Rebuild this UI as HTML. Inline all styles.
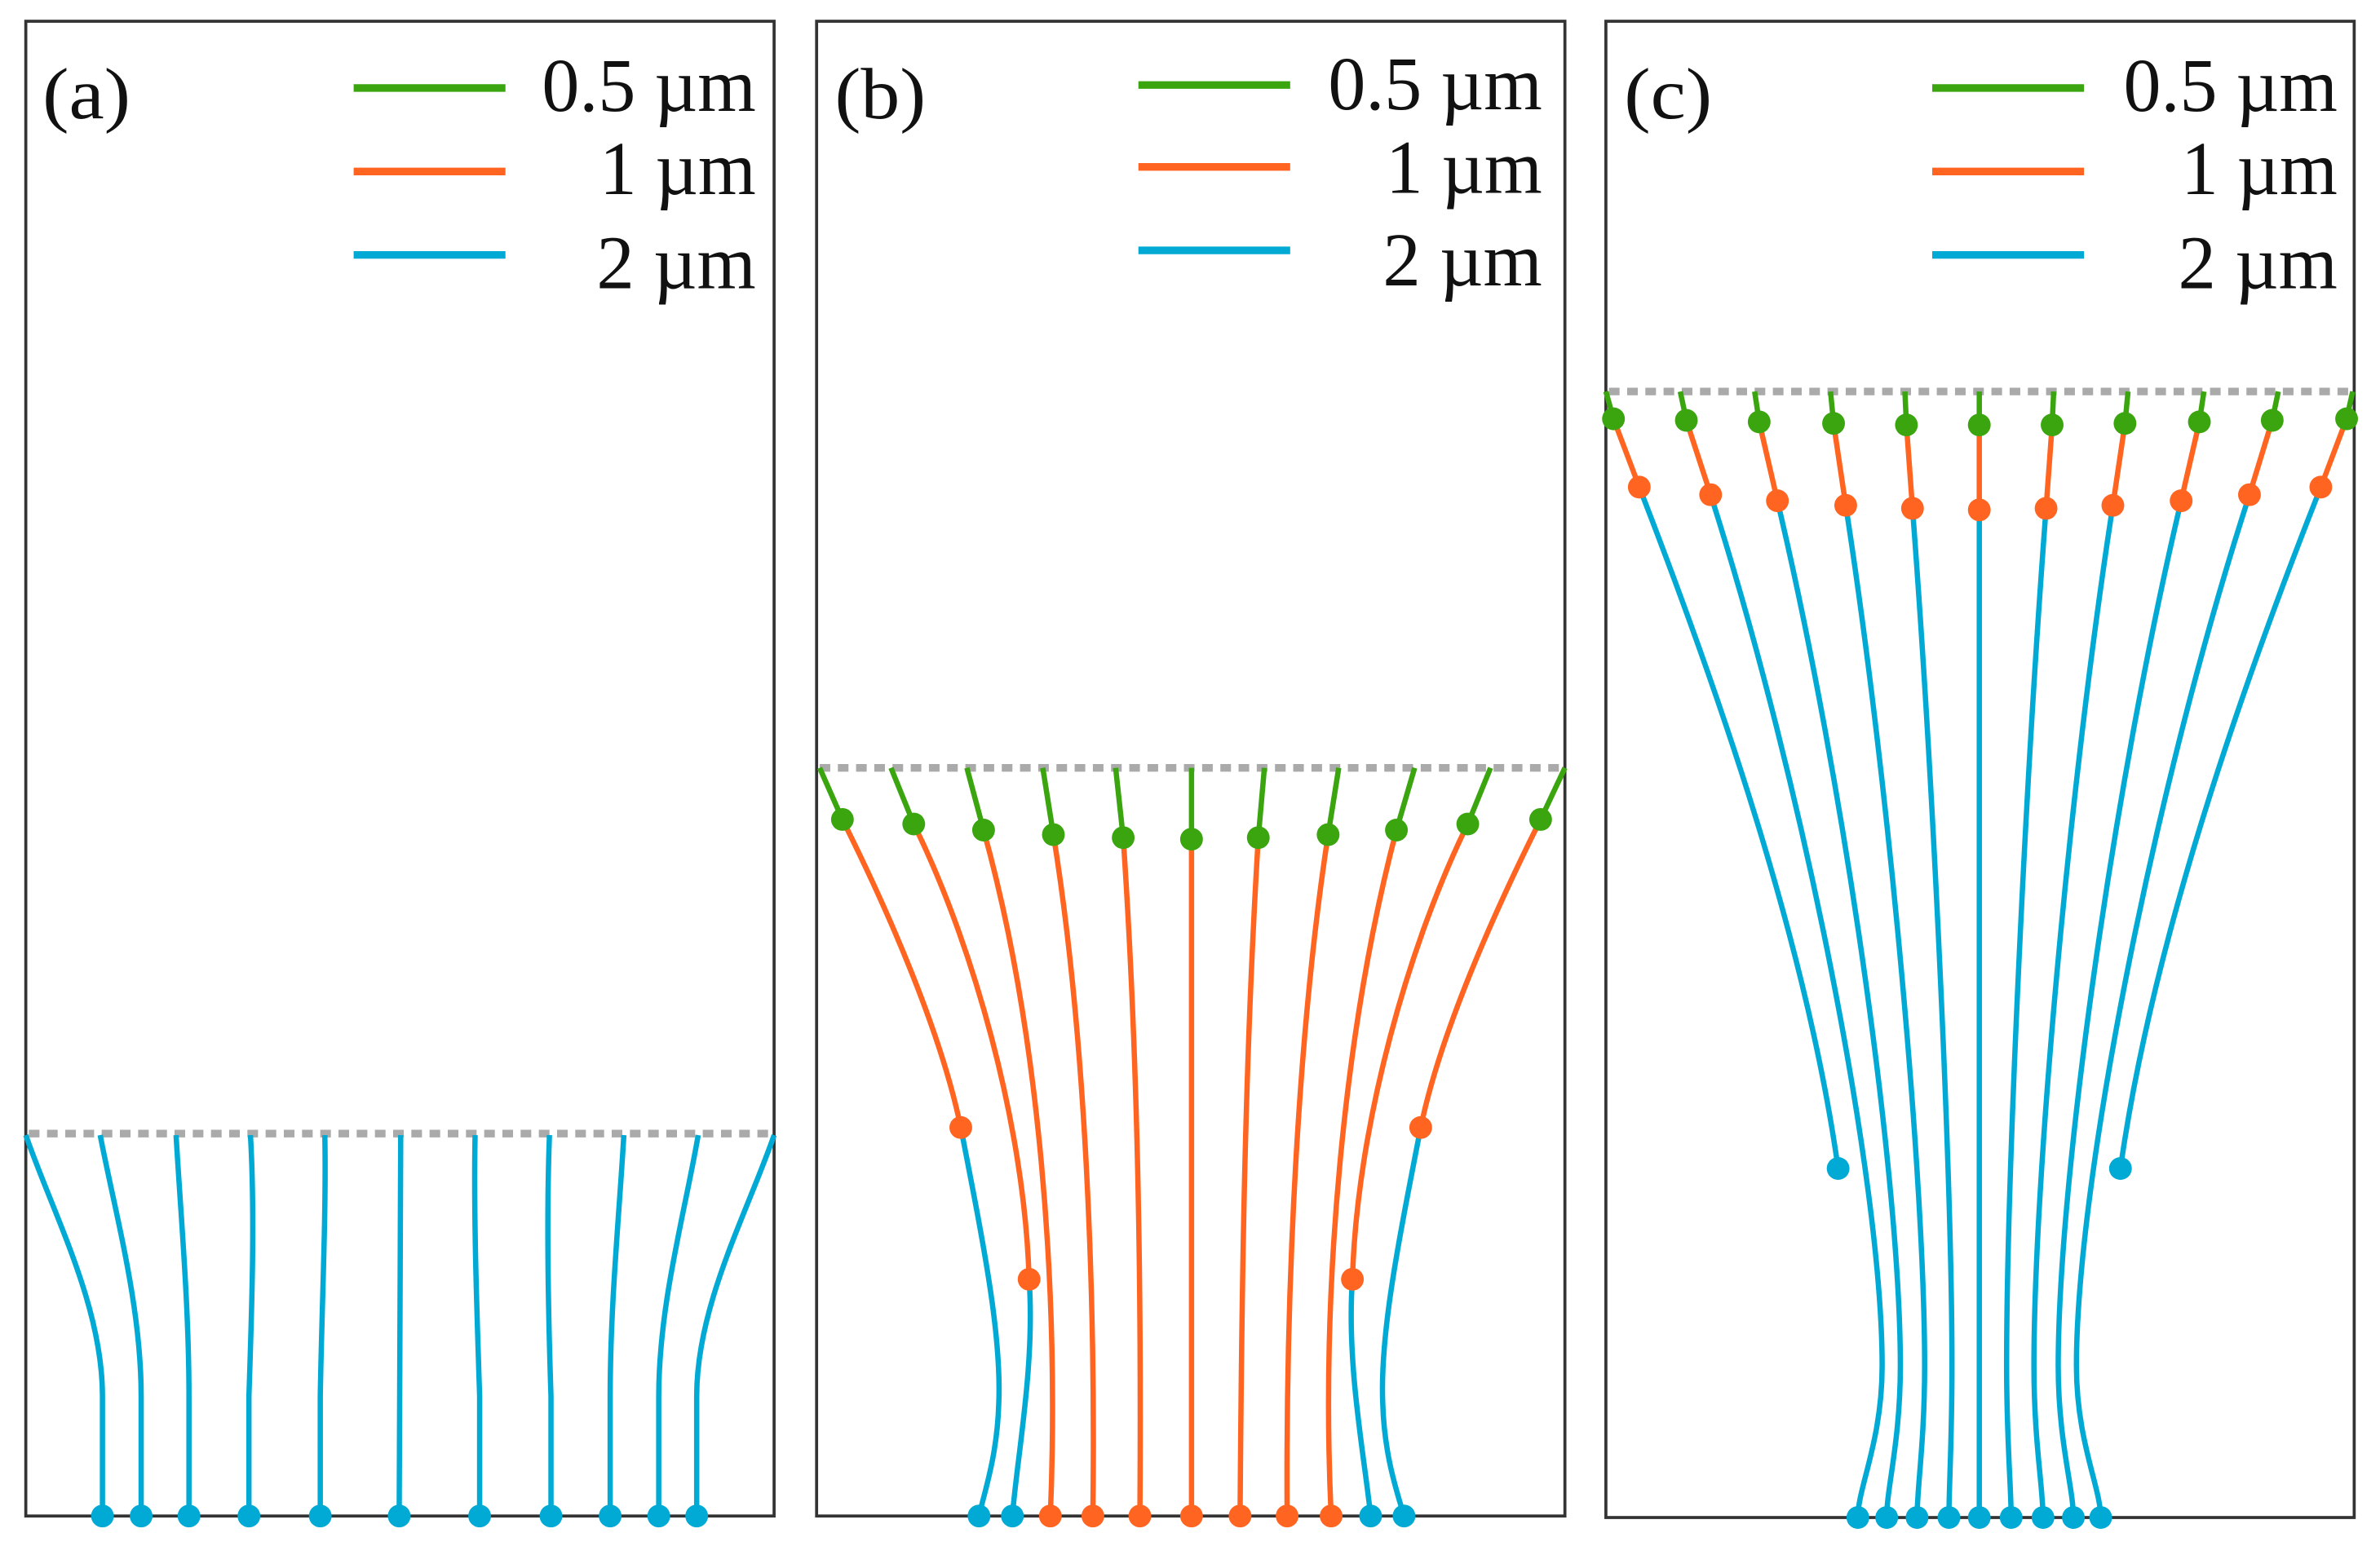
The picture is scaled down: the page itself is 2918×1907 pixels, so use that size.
<!DOCTYPE html>
<html><head><meta charset="utf-8"><style>
html,body{margin:0;padding:0;background:#fff;}
svg{display:block}
text{font-family:"Liberation Serif",serif;fill:#111}
</style></head><body>
<svg width="2918" height="1907" viewBox="0 0 1568 1024.7" preserveAspectRatio="none" xmlns="http://www.w3.org/2000/svg">
<g fill="none" stroke="#333" stroke-width="2">
<rect x="17" y="14" width="493" height="985"/>
<rect x="538" y="14" width="493" height="985"/>
<rect x="1058" y="14" width="493" height="986"/>
</g>
<g font-size="48">
<text x="28" y="78" textLength="58" lengthAdjust="spacingAndGlyphs">(a)</text>
<text x="550" y="78" textLength="60" lengthAdjust="spacingAndGlyphs">(b)</text>
<text x="1070" y="78" textLength="58" lengthAdjust="spacingAndGlyphs">(c)</text>
</g>
<g font-size="50">
<text x="357" y="73" textLength="141" lengthAdjust="spacingAndGlyphs">0.5 µm</text><text x="395" y="128" textLength="103" lengthAdjust="spacingAndGlyphs">1 µm</text><text x="393" y="190" textLength="105" lengthAdjust="spacingAndGlyphs">2 µm</text>
<text x="875" y="72" textLength="141" lengthAdjust="spacingAndGlyphs">0.5 µm</text><text x="913" y="127" textLength="103" lengthAdjust="spacingAndGlyphs">1 µm</text><text x="911" y="188" textLength="105" lengthAdjust="spacingAndGlyphs">2 µm</text>
<text x="1399" y="73" textLength="141" lengthAdjust="spacingAndGlyphs">0.5 µm</text><text x="1437" y="128" textLength="103" lengthAdjust="spacingAndGlyphs">1 µm</text><text x="1435" y="190" textLength="105" lengthAdjust="spacingAndGlyphs">2 µm</text>
</g>
<g stroke-width="5">
<path d="M233 58H333M750 56H850M1273 58H1373" stroke="#3aa50f"/>
<path d="M233 113H333M750 110H850M1273 113H1373" stroke="#ff6420"/>
<path d="M233 168H333M750 165H850M1273 168H1373" stroke="#00aad4"/>
</g>
<g stroke="#aaa" stroke-width="5" stroke-dasharray="7 5">
<path d="M19 747H510M540 506H1031M1060 258H1551"/>
</g>
<g fill="none" stroke="#00aad4" stroke-width="3.5">
<path d="M17 748C35 800 67.5 860 67.5 920L67.5 999"/>
<path d="M66 748C76 800 93 860 93 920L93 999"/>
<path d="M116 748C119 800 124.5 860 124.5 920L124.5 999"/>
<path d="M165 748C168 800 166 860 164 920L164 999"/>
<path d="M214 748C215 800 212 860 211 920L211 999"/>
<path d="M264 748L263 999"/>
<path d="M313 748C312 800 314 860 316 920L316 999"/>
<path d="M362 748C360 800 361 860 363 920L363 999"/>
<path d="M411 748C408 800 402 860 402 920L402 999"/>
<path d="M460 748C451 800 434 860 434 920L434 999"/>
<path d="M510 748C492 800 459 860 459 920L459 999"/>
</g>
<g fill="#00aad4">
<circle cx="67.5" cy="999" r="7.5"/><circle cx="93" cy="999" r="7.5"/><circle cx="124.5" cy="999" r="7.5"/><circle cx="164" cy="999" r="7.5"/><circle cx="211" cy="999" r="7.5"/><circle cx="263" cy="999" r="7.5"/><circle cx="316" cy="999" r="7.5"/><circle cx="363" cy="999" r="7.5"/><circle cx="402" cy="999" r="7.5"/><circle cx="434" cy="999" r="7.5"/><circle cx="459" cy="999" r="7.5"/>
</g>
<g fill="none" stroke="#3aa50f" stroke-width="3.5">
<path d="M540 506L555 540M587 506L602 543M637 506L648 547M687 506L694 550M735 506L740 552M785 506L785 553M833 506L829 552M882 506L875 550M932 506L920 547M982 506L967 543M1031 506L1015 540"/>
<path d="M1058 258L1063 276M1107 258L1111 277M1156 258L1159 278M1206 258L1208 279M1255 258L1256 280M1304 258L1304 280M1353 258L1352 280M1402 258L1400 279M1452 258L1449 278M1501 258L1497 277M1550 258L1546 276"/>
</g>
<g fill="none" stroke="#ff6420" stroke-width="3.5">
<path d="M555 540C585 600 620 680 633 743"/>
<path d="M602 543C640 620 675 740 678 843"/>
<path d="M648 547C685 680 698 850 692 999"/>
<path d="M694 550C715 680 722 850 720 999"/>
<path d="M740 552C750 700 752 850 751 999"/>
<path d="M785 553L785 999"/>
<path d="M829 552C820 700 818 850 817 999"/>
<path d="M875 550C855 680 847 850 848 999"/>
<path d="M920 547C885 680 870 850 877 999"/>
<path d="M967 543C929 620 894 740 891 843"/>
<path d="M1015 540C985 600 949 680 936 743"/>
<path d="M1063 276L1080 321M1111 277L1127 326M1159 278L1171 330M1208 279L1216 333M1256 280L1260 335M1304 280L1304 336M1352 280L1348 335M1400 279L1392 333M1449 278L1437 330M1497 277L1482 326M1546 276L1529 321"/>
</g>
<g fill="none" stroke="#00aad4" stroke-width="3.5">
<path d="M633 743C648 820 660 880 658 925C657 960 648 985 645 999"/>
<path d="M678 843C682 900 670 960 667 999"/>
<path d="M936 743C921 820 909 880 911 925C912 960 921 985 925 999"/>
<path d="M891 843C887 900 899 960 903 999"/>
<path d="M1080 321C1130 450 1190 620 1211 770"/>
<path d="M1127 326C1189 520 1240 780 1240 900C1240 950 1224 980 1224 1000"/>
<path d="M1171 330C1216 520 1252 780 1252 900C1252 950 1243 980 1243 1000"/>
<path d="M1216 333C1245 520 1268 780 1268 900C1268 950 1263 980 1263 1000"/>
<path d="M1260 335C1274 520 1286 780 1286 900C1286 950 1284 980 1284 1000"/>
<path d="M1304 336L1304 1000"/>
<path d="M1348 335C1334 520 1322 780 1322 900C1322 950 1325 980 1325 1000"/>
<path d="M1392 333C1363 520 1340 780 1340 900C1340 950 1346 980 1346 1000"/>
<path d="M1437 330C1392 520 1356 780 1356 900C1356 950 1366 980 1366 1000"/>
<path d="M1482 326C1419 520 1368 780 1368 900C1368 950 1384 980 1384 1000"/>
<path d="M1529 321C1478 450 1418 620 1397 770"/>
</g>
<g fill="#3aa50f">
<circle cx="555" cy="540" r="7.5"/><circle cx="602" cy="543" r="7.5"/><circle cx="648" cy="547" r="7.5"/><circle cx="694" cy="550" r="7.5"/><circle cx="740" cy="552" r="7.5"/><circle cx="785" cy="553" r="7.5"/><circle cx="829" cy="552" r="7.5"/><circle cx="875" cy="550" r="7.5"/><circle cx="920" cy="547" r="7.5"/><circle cx="967" cy="543" r="7.5"/><circle cx="1015" cy="540" r="7.5"/>
<circle cx="1063" cy="276" r="7.5"/><circle cx="1111" cy="277" r="7.5"/><circle cx="1159" cy="278" r="7.5"/><circle cx="1208" cy="279" r="7.5"/><circle cx="1256" cy="280" r="7.5"/><circle cx="1304" cy="280" r="7.5"/><circle cx="1352" cy="280" r="7.5"/><circle cx="1400" cy="279" r="7.5"/><circle cx="1449" cy="278" r="7.5"/><circle cx="1497" cy="277" r="7.5"/><circle cx="1546" cy="276" r="7.5"/>
</g>
<g fill="#ff6420">
<circle cx="633" cy="743" r="7.5"/><circle cx="678" cy="843" r="7.5"/><circle cx="891" cy="843" r="7.5"/><circle cx="936" cy="743" r="7.5"/>
<circle cx="692" cy="999" r="7.5"/><circle cx="720" cy="999" r="7.5"/><circle cx="751" cy="999" r="7.5"/><circle cx="785" cy="999" r="7.5"/><circle cx="817" cy="999" r="7.5"/><circle cx="848" cy="999" r="7.5"/><circle cx="877" cy="999" r="7.5"/>
<circle cx="1080" cy="321" r="7.5"/><circle cx="1127" cy="326" r="7.5"/><circle cx="1171" cy="330" r="7.5"/><circle cx="1216" cy="333" r="7.5"/><circle cx="1260" cy="335" r="7.5"/><circle cx="1304" cy="336" r="7.5"/><circle cx="1348" cy="335" r="7.5"/><circle cx="1392" cy="333" r="7.5"/><circle cx="1437" cy="330" r="7.5"/><circle cx="1482" cy="326" r="7.5"/><circle cx="1529" cy="321" r="7.5"/>
</g>
<g fill="#00aad4">
<circle cx="645" cy="999" r="7.5"/><circle cx="667" cy="999" r="7.5"/><circle cx="903" cy="999" r="7.5"/><circle cx="925" cy="999" r="7.5"/>
<circle cx="1211" cy="770" r="7.5"/><circle cx="1397" cy="770" r="7.5"/>
<circle cx="1224" cy="1000" r="7.5"/><circle cx="1243" cy="1000" r="7.5"/><circle cx="1263" cy="1000" r="7.5"/><circle cx="1284" cy="1000" r="7.5"/><circle cx="1304" cy="1000" r="7.5"/><circle cx="1325" cy="1000" r="7.5"/><circle cx="1346" cy="1000" r="7.5"/><circle cx="1366" cy="1000" r="7.5"/><circle cx="1384" cy="1000" r="7.5"/>
</g>
</svg>
</body></html>
